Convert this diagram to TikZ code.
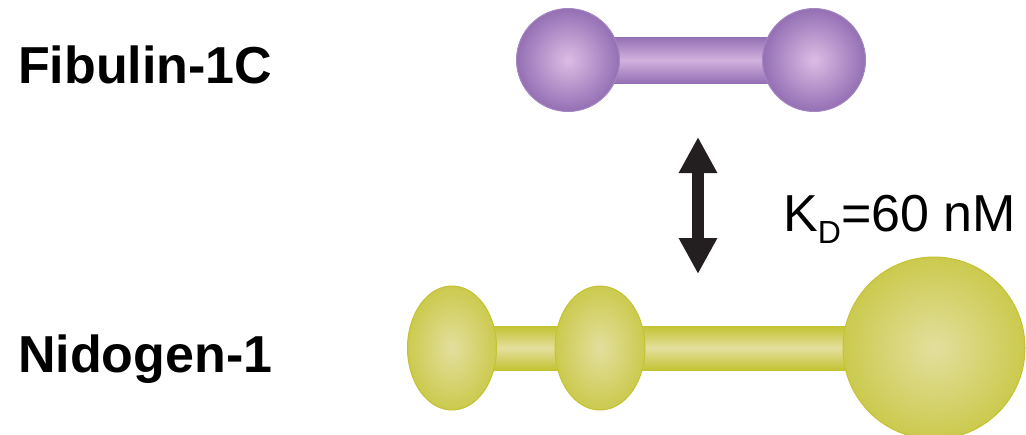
\documentclass[tikz,border=0pt]{standalone}
\usepackage{fontspec}
\setmainfont{Liberation Sans}
\usetikzlibrary{shapes.geometric,arrows.meta,calc}

\definecolor{fibdark}{HTML}{9470B4}
\definecolor{fibmid}{HTML}{A386C2}
\definecolor{fiblight}{HTML}{DDBCE4}
\definecolor{niddark}{HTML}{C4C332}
\definecolor{nidmid}{HTML}{CBCA4E}
\definecolor{nidlight}{HTML}{E3DF9E}
\definecolor{arrowblack}{HTML}{231F20}

\tikzset{
  ball/.style={inner sep=0pt, line width=1pt, shading=radial},
  fibball/.style={ball, circle, draw=fibmid, inner color=fiblight, outer color=fibdark},
  nidball/.style={ball, draw=niddark, inner color=nidlight, outer color=nidmid},
  fibrod/.style={top color=fibdark, bottom color=fibdark, middle color=fiblight!85!fibdark},
  nidrod/.style={top color=niddark, bottom color=niddark, middle color=nidlight},
  protlabel/.style={font=\fontsize{52}{60}\selectfont\bfseries, inner sep=0pt, anchor=base west},
}

\begin{document}
\begin{tikzpicture}[x=1pt, y=-1pt]
  \useasboundingbox (0,0) rectangle (1026,434);

  % Fibulin-1C: two globes on a rod
  \node[protlabel] (fiblabel) at (18,83) {Fibulin-1C};
  \coordinate (fl) at (568,60);
  \coordinate (fr) at (814,60);
  \shade[fibrod] ($(fl)+(0,-23)$) rectangle ($(fr)+(0,23)$);
  \node[fibball, minimum size=103pt] (fibleft) at (fl) {};
  \node[fibball, minimum size=103pt] (fibright) at (fr) {};

  % Nidogen-1: G1, G2 and the large G3 globe
  \node[protlabel] (nidlabel) at (18,372) {Nidogen-1};
  \coordinate (g1) at (452,348);
  \coordinate (g3) at (934,348);
  \shade[nidrod] ($(g1)+(0,-22)$) rectangle ($(g3)+(0,22)$);
  \node[nidball, ellipse, minimum width=89pt, minimum height=124pt] (ga) at (g1) {};
  \node[nidball, ellipse, minimum width=90pt, minimum height=124pt] (gb) at (600,348) {};
  \node[nidball, circle, minimum size=182pt] (gc) at (g3) {};

  % binding arrow and affinity
  \coordinate (top) at (698,137);
  \coordinate (bot) at (698,274);
  \draw[arrowblack, line width=12pt,
    {Triangle[width=36pt,length=36pt]}-{Triangle[width=36pt,length=36pt]}] (top) -- (bot);
  \node[anchor=base west, inner sep=0pt, font=\fontsize{52}{60}\selectfont] (kd) at (783,231)
    {K\raisebox{-12pt}{\fontsize{32}{32}\selectfont D}=60 nM};
\end{tikzpicture}
\end{document}
